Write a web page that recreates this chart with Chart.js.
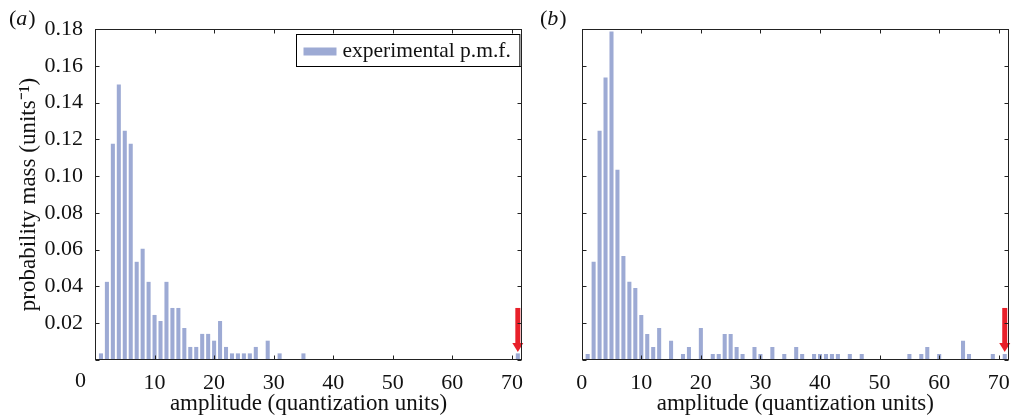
<!DOCTYPE html>
<html>
<head>
<meta charset="utf-8">
<script src="https://cdn.jsdelivr.net/npm/chart.js@4.4.1/dist/chart.umd.min.js"></script>
<style>
  html, body { margin: 0; padding: 0; background: #fff; }
  #wrap { position: relative; width: 1020px; height: 419px; overflow: hidden; }
  .panel { position: absolute; top: 0; }
  #panel-a { left: 0; }
  #panel-b { left: 535px; }
</style>
</head>
<body>
<div id="wrap">
  <div class="panel" id="panel-a"><canvas id="chart-a" width="535" height="419"></canvas></div>
  <div class="panel" id="panel-b"><canvas id="chart-b" width="485" height="419"></canvas></div>
</div>
<script>
// --- dados ---
const seriesLabel = 'experimental p.m.f.';

// (a)
const ampA = [1, 2, 3, 4, 5, 6, 7, 8, 9, 10, 11, 12, 13, 14, 15, 16, 17, 18, 19, 20,
              21, 22, 23, 24, 25, 26, 27, 29, 31, 35, 71];
const pmfA = [0.0036, 0.0425, 0.1176, 0.1498, 0.1247, 0.1176, 0.0534, 0.0605, 0.0425, 0.0245,
              0.0212, 0.0425, 0.0283, 0.0283, 0.0174, 0.0071, 0.0071, 0.0142, 0.0142, 0.0105,
              0.0212, 0.0071, 0.0036, 0.0036, 0.0036, 0.0036, 0.0071, 0.0105, 0.0036, 0.0036, 0.0036];

// (b)
const ampB = [1, 2, 3, 4, 5, 6, 7, 8, 9, 10, 11, 12, 13, 15, 17, 18, 20, 22, 23, 24,
              25, 26, 27, 29, 30, 32, 34, 36, 37, 39, 40, 41, 42, 43, 45, 47, 55, 57, 58, 60,
              64, 65, 69, 71];
const pmfB = [0.0033, 0.0534, 0.1247, 0.1536, 0.1786, 0.1035, 0.0566, 0.0425, 0.0392, 0.0245,
              0.0142, 0.0071, 0.0174, 0.0105, 0.0033, 0.0071, 0.0174, 0.0033, 0.0033, 0.0142,
              0.0142, 0.0071, 0.0033, 0.0071, 0.0033, 0.0071, 0.0033, 0.0071, 0.0033, 0.0033,
              0.0033, 0.0033, 0.0033, 0.0033, 0.0033, 0.0033, 0.0033, 0.0033, 0.0071, 0.0033,
              0.0105, 0.0033, 0.0033, 0.0033];

const xTicks = [0, 10, 20, 30, 40, 50, 60, 70];
const yTicks = [0, 0.02, 0.04, 0.06, 0.08, 0.10, 0.12, 0.14, 0.16, 0.18];
const xMax = 71.7;
const yMax = 0.18;

// seta vermelha: posição e extremos (em unidades dos eixos)
const arrowAt = 71;
const arrowFrom = 0.0283;
const arrowTo = 0.0044;

// --- estilos ---
const serif = "'Liberation Serif', 'Times New Roman', serif";
const barColor = '#9DAAD4';
const arrowColor = '#E8202A';
const inkColor = '#111';
const axisColor = '#222';

// moldura, ticks para dentro, seta, legenda e letra do painel
const framePlugin = {
    id: 'frame',
    afterDraw(chart, args, o) {
        const { ctx, chartArea: a, scales: { x, y } } = chart;
        ctx.save();

        // seta
        const ax = x.getPixelForValue(arrowAt);
        const ay0 = y.getPixelForValue(arrowFrom);
        const ay1 = y.getPixelForValue(arrowTo);
        ctx.fillStyle = arrowColor;
        ctx.fillRect(ax - 2.5, ay0, 5, ay1 - ay0 - 8);
        ctx.beginPath();
        ctx.moveTo(ax - 5.5, ay1 - 9);
        ctx.lineTo(ax + 5.5, ay1 - 9);
        ctx.lineTo(ax, ay1);
        ctx.closePath();
        ctx.fill();

        // caixa
        const L = Math.round(a.left) + 0.5, R = Math.round(a.right) - 0.5;
        const T = Math.round(a.top) + 0.5, B = Math.round(a.bottom) - 0.5;
        ctx.strokeStyle = axisColor;
        ctx.lineWidth = 1;
        ctx.strokeRect(L, T, R - L, B - T);

        ctx.beginPath();
        xTicks.forEach(v => {
            const px = Math.round(x.getPixelForValue(v)) + 0.5;
            ctx.moveTo(px, B); ctx.lineTo(px, B - 4);
            ctx.moveTo(px, T); ctx.lineTo(px, T + 4);
        });
        yTicks.forEach(v => {
            const py = Math.round(y.getPixelForValue(v)) + 0.5;
            ctx.moveTo(L, py); ctx.lineTo(L + 4, py);
            ctx.moveTo(R, py); ctx.lineTo(R - 4, py);
        });
        ctx.stroke();

        // "0" do eixo x deslocado para a esquerda (só no painel a)
        if (o.zeroShift) {
            ctx.fillStyle = inkColor;
            ctx.font = `22px ${serif}`;
            ctx.textAlign = 'center';
            ctx.textBaseline = 'top';
            ctx.fillText('0', x.getPixelForValue(0) + o.zeroShift, a.bottom + 10);
        }

        // legenda
        if (o.legend) {
            const ds = chart.data.datasets[0];
            ctx.font = `21.5px ${serif}`;
            const tw = ctx.measureText(ds.label).width;
            const w = 7 + 33 + 6 + tw + 9;
            const bx = Math.round(a.right - 3 - w) + 0.5;
            const by = Math.round(a.top + 5) + 0.5;
            ctx.fillStyle = '#fff';
            ctx.fillRect(bx, by, w, 32);
            ctx.strokeStyle = '#000';
            ctx.strokeRect(bx, by, w, 32);
            ctx.fillStyle = ds.backgroundColor;
            ctx.fillRect(bx + 7, by + 13, 33, 8);
            ctx.fillStyle = inkColor;
            ctx.textAlign = 'left';
            ctx.textBaseline = 'middle';
            ctx.fillText(ds.label, bx + 46, by + 16.5);
        }

        // letra do painel: parênteses retos, letra itálica
        if (o.letter) {
            let px = o.letterX;
            const py = 19;
            ctx.fillStyle = inkColor;
            ctx.textAlign = 'left';
            ctx.textBaseline = 'middle';
            ctx.font = `22px ${serif}`;
            ctx.fillText('(', px, py);
            px += ctx.measureText('(').width;
            ctx.font = `italic 22px ${serif}`;
            ctx.fillText(o.letter, px, py);
            px += ctx.measureText(o.letter).width + 1;
            ctx.font = `22px ${serif}`;
            ctx.fillText(')', px, py);
        }
        ctx.restore();
    }
};

function buildChart(canvasId, amps, pmf, cfg) {
    const canvas = document.getElementById(canvasId);
    return new Chart(canvas, {
        type: 'bar',
        data: {
            datasets: [{
                label: seriesLabel,
                data: amps.map((a, i) => ({ x: a, y: pmf[i] })),
                backgroundColor: barColor,
                borderWidth: 0,
                barPercentage: 0.68,
                categoryPercentage: 1
            }]
        },
        options: {
            responsive: false,
            animation: false,
            layout: { padding: { top: 29, right: cfg.rightPad, left: 0, bottom: 0 } },
            plugins: {
                legend: { display: false },
                tooltip: { enabled: false },
                frame: cfg.frame
            },
            scales: {
                x: {
                    type: 'linear',
                    offset: false,
                    min: 0,
                    max: xMax,
                    afterBuildTicks: s => { s.ticks = xTicks.map(v => ({ value: v })); },
                    afterFit: s => { s.height = 59; },
                    grid: { display: false, drawTicks: false, offset: false },
                    border: { display: false },
                    ticks: {
                        color: inkColor,
                        font: { family: serif, size: 22 },
                        padding: 10,
                        maxRotation: 0,
                        autoSkip: false,
                        callback: v => (cfg.frame.zeroShift && v === 0) ? '' : String(v)
                    },
                    title: {
                        display: true,
                        text: 'amplitude (quantization units)',
                        color: inkColor,
                        font: { family: serif, size: 23 },
                        padding: { top: 0, bottom: 1 }
                    }
                },
                y: {
                    min: 0,
                    max: yMax,
                    afterBuildTicks: s => { s.ticks = yTicks.map(v => ({ value: v })); },
                    afterFit: s => { s.width = cfg.yWidth; },
                    grid: { display: false, drawTicks: false },
                    border: { display: false },
                    ticks: {
                        display: cfg.yLabels,
                        color: inkColor,
                        font: { family: serif, size: 22 },
                        padding: 12,
                        callback: v => v === 0 ? '' : v.toFixed(2)
                    },
                    title: {
                        display: cfg.yLabels,
                        text: 'probability mass (units\u207B\u00B9)',
                        color: inkColor,
                        font: { family: serif, size: 23 },
                        padding: { top: 15, bottom: 0 }
                    }
                }
            }
        },
        plugins: [framePlugin]
    });
}

buildChart('chart-a', ampA, pmfA, {
    rightPad: 13,
    yWidth: 95,
    yLabels: true,
    frame: { legend: true, letter: 'a', letterX: 9, zeroShift: -14.5 }
});

buildChart('chart-b', ampB, pmfB, {
    rightPad: 9.5,
    yWidth: 46.7,
    yLabels: false,
    frame: { legend: false, letter: 'b', letterX: 5, zeroShift: 0 }
});
</script>
</body>
</html>
